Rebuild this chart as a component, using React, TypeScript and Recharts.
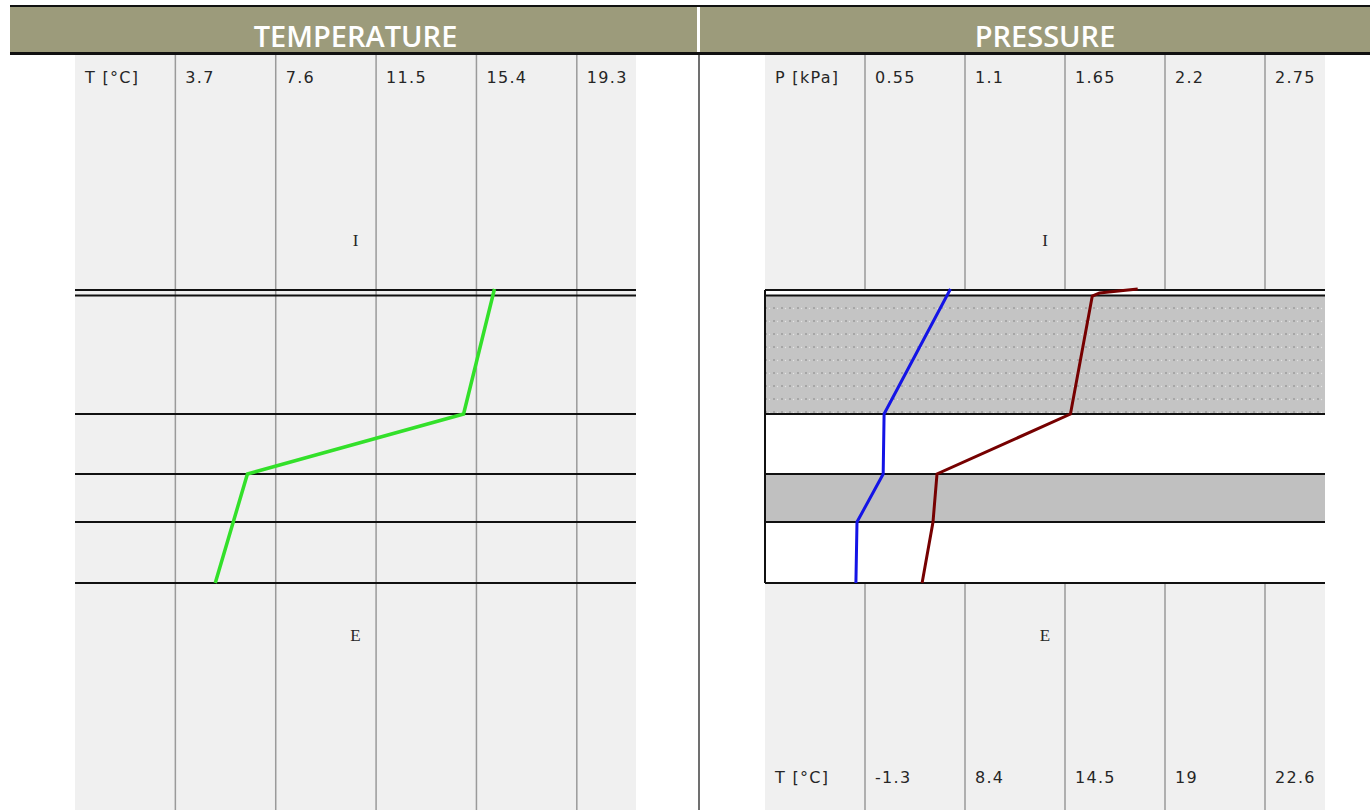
import React from "react";
import {
	ComposedChart,
	Scatter,
	XAxis,
	YAxis,
	CartesianGrid,
	ReferenceLine,
	ReferenceArea,
	ReferenceDot,
} from "recharts";

// axis ticks
const tempTicks = [3.7, 7.6, 11.5, 15.4, 19.3];
const pressTicks = [0.55, 1.1, 1.65, 2.2, 2.75];
const satTempLabels = ["-1.3", "8.4", "14.5", "19", "22.6"];

// wall layer boundaries (mm from the interior surface)
const layerDepths = [0, 11, 248, 368, 464, 586];

// temperature profile
const tempDepths = [-2, 248, 368, 586];
const tempValues = [16.1, 14.9, 6.5, 5.25];

// vapour pressure profile
const vapDepths = [-2, 248, 368, 464, 586];
const vapValues = [1.02, 0.655, 0.65, 0.506, 0.5];

// saturation pressure profile
const satDepths = [-2, 1, 6, 12, 248, 368, 464, 586];
const satValues = [2.05, 1.97, 1.84, 1.8, 1.68, 0.946, 0.924, 0.864];

const tempDomain: [number, number] = [-0.2, 21.6];
const pressDomain: [number, number] = [0, 3.08];
const depthDomain: [number, number] = [-470, 1040];

const layerFills = ["#ffffff", "url(#dots)", "#ffffff", "#c0c0c0", "#ffffff"];

const toRows = (depths: number[], values: number[]) =>
	depths.map((d, i) => ({ d, v: values[i] }));

const tempData = toRows(tempDepths, tempValues);
const vapData = toRows(vapDepths, vapValues);
const satData = toRows(satDepths, satValues);

const FONT = "'DejaVu Sans', Tahoma, sans-serif";

const makeTick =
	(labels: string[], textY: number) =>
	({ x, index }: any) =>
		(
			<text
				x={x + 10}
				y={textY}
				fill="#262626"
				fontSize={16}
				fontFamily={FONT}
				letterSpacing={1.3}
				textAnchor="start">
				{labels[index]}
			</text>
		);

const sideLabel = (value: string) => ({
	value,
	position: "center" as const,
	fill: "#262626",
	fontSize: 17,
	fontFamily: "'Liberation Serif', serif",
});

const Header = ({ left, width, title, pad }: any) => (
	<div
		style={{
			position: "absolute",
			left,
			top: 7,
			width,
			height: 46,
			background: "#9c9b7b",
			color: "#fff",
			fontFamily: "'Open Sans', sans-serif",
			fontWeight: 600,
			fontSize: 29,
			lineHeight: "58px",
			textAlign: "center",
			paddingLeft: pad,
			boxSizing: "border-box",
		}}>
		{title}
	</div>
);

const TemperatureChart = () => (
	<ComposedChart
		width={690}
		height={756}
		margin={{ top: 0, right: 54, bottom: 0, left: 75 }}>
		<XAxis
			xAxisId="val"
			type="number"
			dataKey="v"
			domain={tempDomain}
			allowDataOverflow
			orientation="top"
			height={1}
			ticks={[tempDomain[0], ...tempTicks]}
			interval={0}
			axisLine={false}
			tickLine={false}
			tick={makeTick(["T [°C]", ...tempTicks.map(String)], 29)}
		/>
		<YAxis
			type="number"
			dataKey="d"
			domain={depthDomain}
			allowDataOverflow
			reversed
			hide
			width={0}
		/>
		<CartesianGrid
			xAxisId="val"
			horizontal={false}
			verticalValues={tempTicks}
			stroke="#9a9a9a"
			strokeWidth={1.5}
			fill="#f0f0f0"
		/>
		{layerDepths.map((d) => (
			<ReferenceLine
				key={d}
				xAxisId="val"
				y={d}
				stroke="#111"
				strokeWidth={2}
			/>
		))}
		<ReferenceDot
			xAxisId="val"
			x={(tempDomain[0] + tempDomain[1]) / 2}
			y={-100}
			r={0}
			label={sideLabel("I")}
		/>
		<ReferenceDot
			xAxisId="val"
			x={(tempDomain[0] + tempDomain[1]) / 2}
			y={690}
			r={0}
			label={sideLabel("E")}
		/>
		<Scatter
			xAxisId="val"
			data={tempData}
			dataKey="v"
			line={{ stroke: "#33e02a", strokeWidth: 3.5 }}
			shape={() => <g />}
			isAnimationActive={false}
		/>
	</ComposedChart>
);

const PressureChart = () => (
	<ComposedChart
		width={670}
		height={757}
		margin={{ top: 0, right: 45, bottom: 0, left: 65 }}>
		<defs>
			<pattern id="dots" width="8" height="13" patternUnits="userSpaceOnUse">
				<rect width="8" height="13" fill="#c4c4c4" />
				<circle cx="2" cy="7" r="0.8" fill="#808080" />
				<circle cx="5.5" cy="7.5" r="0.7" fill="#e4e4e4" />
			</pattern>
		</defs>
		<XAxis
			xAxisId="val"
			type="number"
			dataKey="v"
			domain={pressDomain}
			allowDataOverflow
			orientation="top"
			height={1}
			ticks={[pressDomain[0], ...pressTicks]}
			interval={0}
			axisLine={false}
			tickLine={false}
			tick={makeTick(["P [kPa]", ...pressTicks.map(String)], 29)}
		/>
		<XAxis
			xAxisId="sat"
			type="number"
			dataKey="v"
			domain={pressDomain}
			allowDataOverflow
			orientation="bottom"
			height={1}
			ticks={[pressDomain[0], ...pressTicks]}
			interval={0}
			axisLine={false}
			tickLine={false}
			tick={makeTick(["T [°C]", ...satTempLabels], 729)}
		/>
		<YAxis
			type="number"
			dataKey="d"
			domain={depthDomain}
			allowDataOverflow
			reversed
			hide
			width={0}
		/>
		<CartesianGrid
			xAxisId="val"
			horizontal={false}
			verticalValues={pressTicks}
			stroke="#9a9a9a"
			strokeWidth={1.5}
			fill="#f0f0f0"
		/>
		{layerFills.map((fill, i) => (
			<ReferenceArea
				key={i}
				xAxisId="val"
				y1={layerDepths[i]}
				y2={layerDepths[i + 1]}
				fill={fill}
				fillOpacity={1}
				stroke="none"
			/>
		))}
		{layerDepths.map((d) => (
			<ReferenceLine
				key={d}
				xAxisId="val"
				y={d}
				stroke="#111"
				strokeWidth={2}
			/>
		))}
		<ReferenceLine
			xAxisId="val"
			segment={[
				{ x: pressDomain[0], y: layerDepths[0] },
				{ x: pressDomain[0], y: layerDepths[layerDepths.length - 1] },
			]}
			stroke="#111"
			strokeWidth={2}
		/>
		<ReferenceDot
			xAxisId="val"
			x={(pressDomain[0] + pressDomain[1]) / 2}
			y={-100}
			r={0}
			label={sideLabel("I")}
		/>
		<ReferenceDot
			xAxisId="val"
			x={(pressDomain[0] + pressDomain[1]) / 2}
			y={690}
			r={0}
			label={sideLabel("E")}
		/>
		<Scatter
			xAxisId="val"
			data={vapData}
			dataKey="v"
			line={{ stroke: "#1414e6", strokeWidth: 3 }}
			shape={() => <g />}
			isAnimationActive={false}
		/>
		<Scatter
			xAxisId="val"
			data={satData}
			dataKey="v"
			line={{ stroke: "#760000", strokeWidth: 3 }}
			shape={() => <g />}
			isAnimationActive={false}
		/>
	</ComposedChart>
);

export default function App() {
	return (
		<div
			style={{
				position: "absolute",
				left: 0,
				top: 0,
				width: 1370,
				height: 810,
				background: "#fff",
				overflow: "hidden",
			}}>
			<div style={{ position: "absolute", left: 10, top: 5, width: 1360, height: 2, background: "#111" }} />
			<Header left={10} width={687} title="TEMPERATURE" pad={4} />
			<Header left={700} width={670} title="PRESSURE" pad={20} />
			<div style={{ position: "absolute", left: 10, top: 52, width: 1360, height: 3, background: "#111" }} />
			<div style={{ position: "absolute", left: 0, top: 54 }}>
				<TemperatureChart />
			</div>
			<div style={{ position: "absolute", left: 698, top: 55, width: 2, height: 755, background: "#707070" }} />
			<div style={{ position: "absolute", left: 700, top: 54 }}>
				<PressureChart />
			</div>
		</div>
	);
}
